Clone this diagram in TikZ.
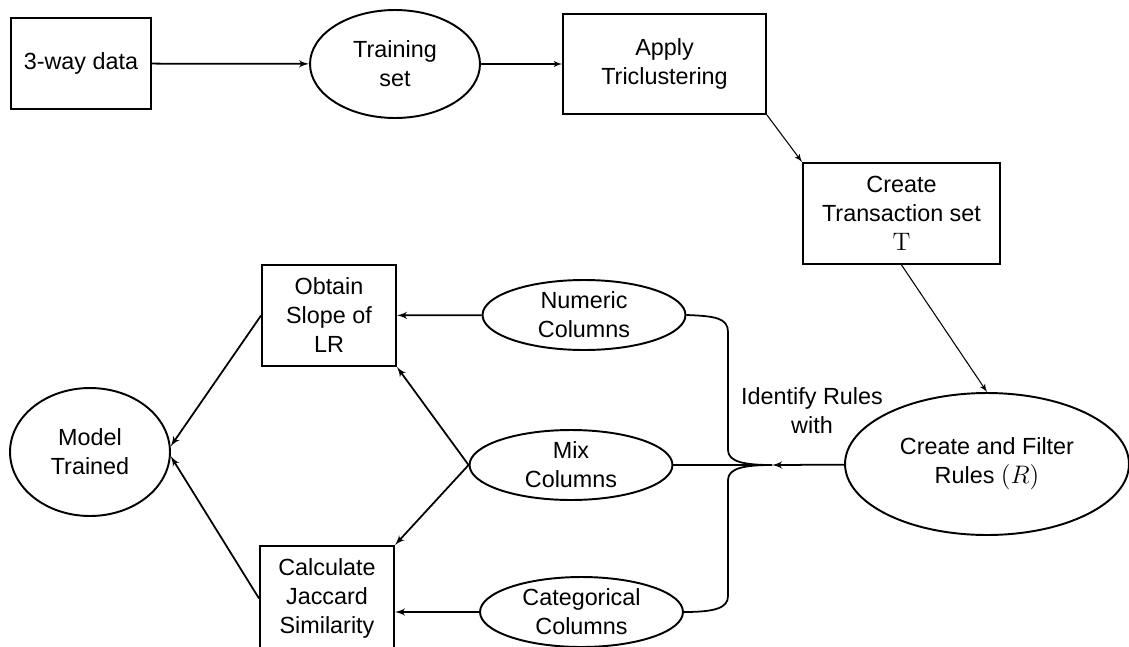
\documentclass[tikz,border=0pt]{standalone}
\usepackage[no-math]{fontspec}
\setmainfont{Liberation Sans}
\usetikzlibrary{shapes,arrows}
\tikzset{
	block/.style = {draw, fill=white, rectangle, line width=1.1pt, align=center, inner sep=2pt},
	%,
	cloud/.style = {draw, fill=white, ellipse, line width=1.1pt, align=center, inner sep=0pt},
	meetpt/.style = {coordinate},
	vec/.style = {line width=1pt, ->},
	thinvec/.style = {line width=0.6pt, ->}
}

\begin{document}
\begin{tikzpicture}[x=0.02cm, y=-0.02cm, >=latex', font=\fontsize{13.3}{16.5}\selectfont]
    \useasboundingbox (0,0) rectangle (1129,646);
    % We start by placing the blocks
    \node [block, minimum width=2.8cm, minimum height=1.82cm] (data) at (81,63.5) {3-way data};
    \node [cloud, minimum width=3.4cm, minimum height=2.16cm] (train) at (395,64) {Training\\set};
    \node [block, minimum width=4.06cm, minimum height=2cm] (tricl) at (664.5,64) {Apply\\Triclustering};
    \node [block, minimum width=3.94cm, minimum height=2.02cm] (trans) at (901.5,213.5) {Create\\Transaction set\\$\mathrm{T}$};
    \node [cloud, minimum width=5.68cm, minimum height=2.84cm] (rules) at (987,464) {Create and Filter\\Rules $(R)$};
    % the three kinds of columns
    \node [cloud, minimum width=4.06cm, minimum height=1.4cm] (numeric) at (584,315) {Numeric\\Columns};
    \node [cloud, minimum width=4.06cm, minimum height=1.4cm] (mix) at (571,465) {Mix\\Columns};
    \node [cloud, minimum width=4.06cm, minimum height=1.4cm] (categ) at (581.5,612) {Categorical\\Columns};
    \node [block, minimum width=2.68cm, minimum height=2.02cm] (slope) at (329,315.5) {Obtain\\Slope of\\LR};
    \node [block, minimum width=2.68cm, minimum height=2.1cm] (jacc) at (327,598.5) {Calculate\\Jaccard\\Similarity};
    \node [cloud, minimum width=3.2cm, minimum height=2.56cm] (model) at (90,452) {Model\\Trained};
    \node [meetpt] (meet) at (772,465) {};
    \node [align=center] (ident) at (812,411) {Identify Rules\\with};

    % Once the nodes are placed, connecting them is easy.
    \draw [vec] (data) -- (train);
    \draw [thinvec] (train) -- (tricl);
    \draw [thinvec] (tricl.south east) -- (trans.north west);
    \draw [thinvec] (trans.south) -- (rules.north);
    \draw [vec] (rules) -- (meet);
    % the brace that gathers the columns
    \draw [line width=1pt] (numeric.east) .. controls (715,316) and (728,318) .. (728,332) -- (728,450)
        .. controls (728,462) and (745,465) .. (meet);
    \draw [line width=1pt] (categ.east) .. controls (715,612) and (728,608) .. (728,596) -- (728,480)
        .. controls (728,468) and (745,465) .. (meet);
    \draw [line width=1pt] (mix) -- (meet);
    \draw [vec] (numeric) -- (slope);
    \draw [vec] (mix.west) -- (slope.south east);
    \draw [vec] (mix.west) -- (jacc.north east);
    \draw [vec] (categ.west) -- (jacc.east |- categ.west);
    \draw [vec] (slope.west) -- (model.4);
    \draw [vec] (jacc.west) -- (model.-3);
\end{tikzpicture}
\end{document}
